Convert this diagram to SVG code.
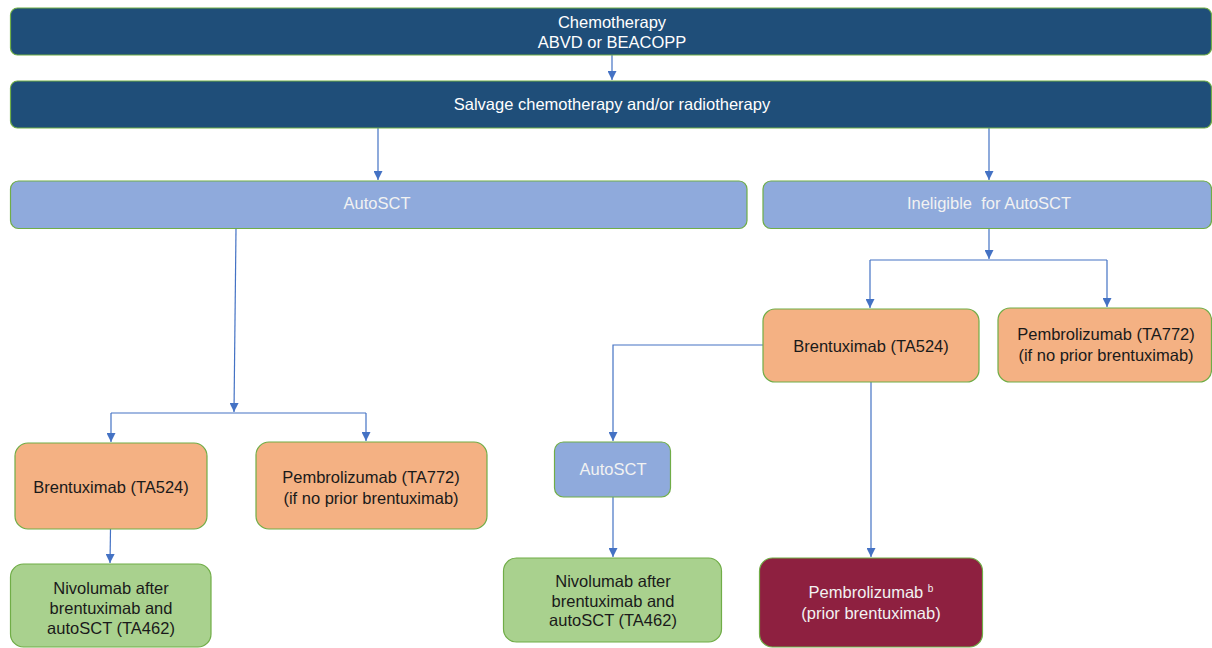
<svg xmlns="http://www.w3.org/2000/svg" width="1212" height="648" viewBox="0 0 1212 648">
<defs>
<marker id="arr" markerUnits="userSpaceOnUse" markerWidth="9" markerHeight="9" viewBox="0 0 10 10" refX="10" refY="5" orient="auto">
<path d="M0,0 L10,5 L0,10 z" fill="#4472C4"/>
</marker>
<style>
.box{stroke:#70AD47;stroke-width:1.2}
.navy{fill:#1F4E79}
.blue{fill:#8FAADC}
.orange{fill:#F4B183}
.green{fill:#A9D18E}
.maroon{fill:#8E2040}
text{font-family:"Liberation Sans",Arial,sans-serif;font-size:16.5px;text-anchor:middle}
.lt{fill:#FFFFFF}
.lb{fill:#F2F2F2}
.dk{fill:#1A1A1A}
.conn path{fill:none;stroke:#4472C4;stroke-width:1.2}
</style>
</defs>
<rect width="1212" height="648" fill="#FFFFFF"/>
<g class="conn">
<path d="M612,55 V80" marker-end="url(#arr)"/>
<path d="M378,128 V180" marker-end="url(#arr)"/>
<path d="M989,128 V180" marker-end="url(#arr)"/>
<path d="M236,229 L234,412" marker-end="url(#arr)"/>
<path d="M111,413 H366"/>
<path d="M111,413 V442" marker-end="url(#arr)"/>
<path d="M366,413 V441" marker-end="url(#arr)"/>
<path d="M110.5,529 L110,563" marker-end="url(#arr)"/>
<path d="M989,229 V259" marker-end="url(#arr)"/>
<path d="M870,260 H1107"/>
<path d="M870,260 V308" marker-end="url(#arr)"/>
<path d="M1107,260 V307" marker-end="url(#arr)"/>
<path d="M763,345 H613 V441" marker-end="url(#arr)"/>
<path d="M613,497 V557" marker-end="url(#arr)"/>
<path d="M871,382 V557" marker-end="url(#arr)"/>
</g>
<g id="chemo">
<rect class="box navy" x="10.5" y="8" width="1201" height="47" rx="7"/>
<text class="lt" x="612" y="28">Chemotherapy</text>
<text class="lt" x="612" y="48">ABVD or BEACOPP</text>
</g>
<g id="salvage">
<rect class="box navy" x="10.5" y="81" width="1201" height="47" rx="7"/>
<text class="lt" x="612" y="110">Salvage chemotherapy and/or radiotherapy</text>
</g>
<g id="autosct">
<rect class="box blue" x="10.5" y="181" width="736.5" height="47.5" rx="8"/>
<text class="lb" x="377" y="209">AutoSCT</text>
</g>
<g id="ineligible">
<rect class="box blue" x="763" y="181" width="448.5" height="47.5" rx="8"/>
<text class="lb" x="989" y="209" xml:space="preserve">Ineligible  for AutoSCT</text>
</g>
<g id="brent-left">
<rect class="box orange" x="15" y="443" width="192" height="86" rx="13"/>
<text class="dk" x="111" y="493">Brentuximab (TA524)</text>
</g>
<g id="pembro-left">
<rect class="box orange" x="256" y="442" width="231" height="87" rx="13"/>
<text class="dk" x="371" y="483">Pembrolizumab (TA772)</text>
<text class="dk" x="371" y="504">(if no prior brentuximab)</text>
</g>
<g id="nivo-left">
<rect class="box green" x="10.5" y="564" width="200.5" height="83" rx="13"/>
<text class="dk" x="111" y="594">Nivolumab after</text>
<text class="dk" x="111" y="614">brentuximab and</text>
<text class="dk" x="111" y="634">autoSCT (TA462)</text>
</g>
<g id="brent-right">
<rect class="box orange" x="763" y="309" width="216" height="73" rx="12"/>
<text class="dk" x="871" y="352">Brentuximab (TA524)</text>
</g>
<g id="pembro-right">
<rect class="box orange" x="998" y="308" width="213.5" height="74" rx="12"/>
<text class="dk" x="1106" y="340">Pembrolizumab (TA772)</text>
<text class="dk" x="1106" y="361">(if no prior brentuximab)</text>
</g>
<g id="autosct-small">
<rect class="box blue" x="554.5" y="442" width="116" height="55" rx="9"/>
<text class="lb" x="613" y="475">AutoSCT</text>
</g>
<g id="nivo-right">
<rect class="box green" x="503.5" y="558" width="218" height="84" rx="13"/>
<text class="dk" x="613" y="587">Nivolumab after</text>
<text class="dk" x="613" y="607">brentuximab and</text>
<text class="dk" x="613" y="626">autoSCT (TA462)</text>
</g>
<g id="pembro-b">
<rect class="box maroon" x="759.5" y="558" width="223" height="89" rx="13"/>
<text class="lb" x="871" y="598">Pembrolizumab <tspan font-size="10" dy="-6">b</tspan></text>
<text class="lb" x="871" y="619">(prior brentuximab)</text>
</g>
</svg>
